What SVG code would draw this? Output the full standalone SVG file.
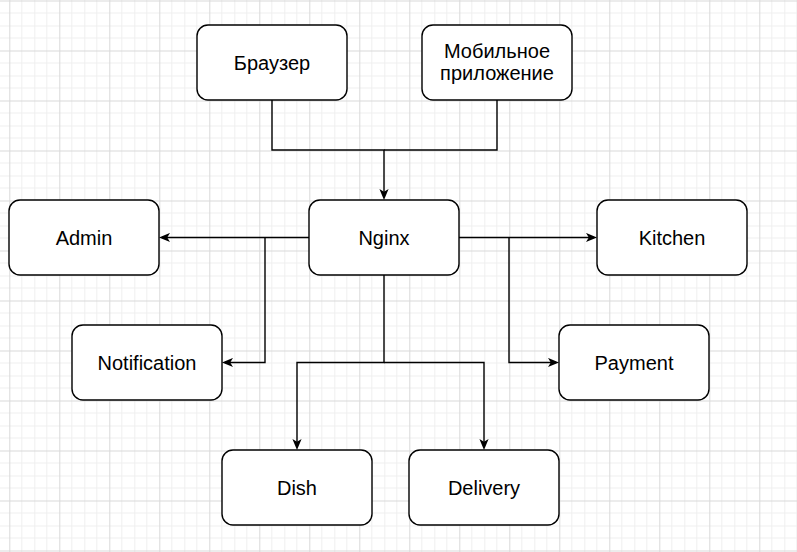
<svg xmlns="http://www.w3.org/2000/svg" width="797" height="552" viewBox="0 0 797 552">
  <defs>
    <pattern id="grid" patternUnits="userSpaceOnUse" x="9.3" y="0.5" width="50" height="50">
      <g shape-rendering="crispEdges" fill="none">
        <path d="M12.5,0V50M25,0V50M37.5,0V50M0,12.5H50M0,25H50M0,37.5H50" stroke="#efefef" stroke-width="1"/>
        <path d="M0,0V50M0,0H50" stroke="#d9d9d9" stroke-width="1"/>
      </g>
    </pattern>
    <marker id="arrow" viewBox="0 0 11 10" refX="8" refY="5" markerWidth="11" markerHeight="10" markerUnits="userSpaceOnUse" orient="auto">
      <path d="M0,0.4 L11,5 L0,9.6 L2.8,5 Z" fill="#000"/>
    </marker>
  </defs>
  <style>
    .node rect { fill: #ffffff; stroke: #000000; stroke-width: 1.4; }
    .node text { font-family: "Liberation Sans", Arial, sans-serif; font-size: 20px; fill: #000000; text-anchor: middle; }
    .edge { fill: none; stroke: #000000; stroke-width: 1.4; }
    .arr { marker-end: url(#arrow); }
  </style>
  <rect x="0" y="0" width="797" height="552" fill="#ffffff"/>
  <rect x="0" y="0" width="797" height="552" fill="url(#grid)"/>

  <g id="connectors">
    <path class="edge arr" d="M272,100 V150 H384 V197"/>
    <path class="edge" d="M497,100 V150 H384"/>
    <path class="edge arr" d="M309,237.5 H162"/>
    <path class="edge arr" d="M265,237.5 V362.5 H225"/>
    <path class="edge arr" d="M459,237.5 H594"/>
    <path class="edge arr" d="M509,237.5 V362.5 H556"/>
    <path class="edge arr" d="M384,275 V362.5 H297 V447"/>
    <path class="edge arr" d="M384,362.5 H484 V447"/>
  </g>

  <g id="browser" class="node">
    <rect x="197" y="25" width="150" height="75" rx="11" ry="11"/>
    <text x="272" y="69.5">Браузер</text>
  </g>
  <g id="mobile" class="node">
    <rect x="422" y="25" width="150" height="75" rx="11" ry="11"/>
    <text x="497" y="58.3">Мобильное</text>
    <text x="497" y="80.3">приложение</text>
  </g>
  <g id="nginx" class="node">
    <rect x="309" y="200" width="150" height="75" rx="11" ry="11"/>
    <text x="384" y="244.5">Nginx</text>
  </g>
  <g id="admin" class="node">
    <rect x="9" y="200" width="150" height="75" rx="11" ry="11"/>
    <text x="84" y="244.5">Admin</text>
  </g>
  <g id="kitchen" class="node">
    <rect x="597" y="200" width="150" height="75" rx="11" ry="11"/>
    <text x="672" y="244.5">Kitchen</text>
  </g>
  <g id="notification" class="node">
    <rect x="72" y="325" width="150" height="75" rx="11" ry="11"/>
    <text x="147" y="369.5">Notification</text>
  </g>
  <g id="payment" class="node">
    <rect x="559" y="325" width="150" height="75" rx="11" ry="11"/>
    <text x="634" y="369.5">Payment</text>
  </g>
  <g id="dish" class="node">
    <rect x="222" y="450" width="150" height="75" rx="11" ry="11"/>
    <text x="297" y="494.5">Dish</text>
  </g>
  <g id="delivery" class="node">
    <rect x="409" y="450" width="150" height="75" rx="11" ry="11"/>
    <text x="484" y="494.5">Delivery</text>
  </g>
</svg>
